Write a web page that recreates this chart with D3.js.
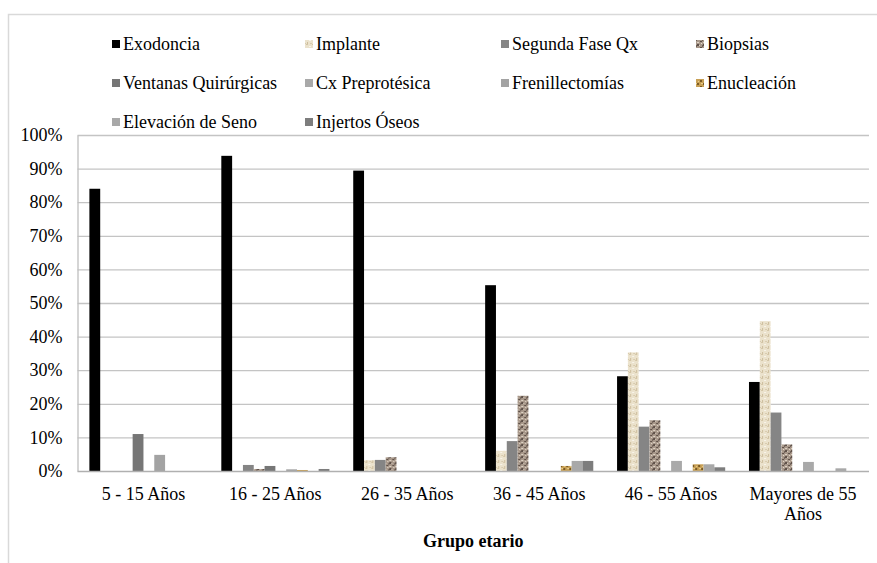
<!DOCTYPE html>
<html>
<head>
<meta charset="utf-8">
<script src="https://cdn.jsdelivr.net/npm/d3@7"></script>
<style>
  html, body { margin: 0; padding: 0; background: #fff; }
  svg { display: block; }
  text { font-family: "Liberation Serif", "Times New Roman", serif; fill: #000; }
</style>
</head>
<body>
<svg id="chart" width="877" height="563"></svg>
<script>
const categories = ["5 - 15 Años", "16 - 25 Años", "26 - 35 Años", "36 - 45 Años", "46 - 55 Años", "Mayores de 55 Años"];
const seriesNames = ["Exodoncia", "Implante", "Segunda Fase Qx", "Biopsias", "Ventanas Quirúrgicas", "Cx Preprotésica", "Frenillectomías", "Enucleación", "Elevación de Seno", "Injertos Óseos"];
const exodoncia    = [84, 93.8, 89.4, 55.3, 28.2, 26.5];
const implante     = [0, 0, 3.2, 6, 35.3, 44.6];
const segundaFase  = [0, 1.8, 3.3, 8.9, 13.2, 17.4];
const biopsias     = [0, 0.6, 4.1, 22.4, 15.1, 7.9];
const ventanas     = [11, 1.5, 0, 0, 0, 0];
const cxPreprot    = [0, 0, 0, 0, 3, 2.7];
const frenillect   = [4.8, 0.5, 0, 0, 0, 0];
const enucleacion  = [0, 0.3, 0, 1.5, 2, 0];
const elevacion    = [0, 0, 0, 3, 2, 0.8];
const injertos     = [0, 0.6, 0, 3, 1.1, 0];
const yTicks = [0, 10, 20, 30, 40, 50, 60, 70, 80, 90, 100];

const seriesValues = [exodoncia, implante, segundaFase, biopsias, ventanas, cxPreprot, frenillect, enucleacion, elevacion, injertos];
const fills = ["#000000", "url(#pImplante)", "#858585", "url(#pBiopsias)", "#767676", "#a9a9a9", "#a3a3a3", "url(#pEnucleacion)", "#a8a8a8", "#7d7d7d"];

const svg = d3.select("#chart");
const defs = svg.append("defs");
function makePattern(id, base, spots) {
  const p = defs.append("pattern").attr("id", id).attr("patternUnits", "userSpaceOnUse")
    .attr("width", 6).attr("height", 6);
  p.append("rect").attr("width", 6).attr("height", 6).attr("fill", base);
  spots.forEach(s => p.append("rect").attr("x", s[0]).attr("y", s[1]).attr("width", s[2]).attr("height", s[3]).attr("fill", s[4]));
}
makePattern("pImplante", "#ebe2cc", [[0,0,2,1,"#d3c5a6"],[3,2,2,1,"#f8f4ea"],[1,4,1,2,"#cdbd9c"],[4,5,2,1,"#d8cbae"]]);
makePattern("pBiopsias", "#a8988a", [[0,0,2,2,"#5e5048"],[3,3,2,1,"#5e5048"],[5,1,1,2,"#6e6058"],[2,1,1,1,"#ddd2c4"],[0,4,2,1,"#ddd2c4"],[4,5,1,1,"#e6dccf"]]);
makePattern("pEnucleacion", "#c8a055", [[0,0,2,2,"#7a5a25"],[3,3,2,2,"#7a5a25"],[4,0,2,1,"#e8cf8e"],[1,4,1,1,"#e8cf8e"]]);

// chart frame
svg.append("path").attr("d", "M8.5,600 V14.5 H900").attr("fill", "none").attr("stroke", "#d9d9d9").attr("stroke-width", 1.5);

const plotLeft = 77.5, plotRight = 869, plotTop = 135, plotBottom = 471;
const x0 = d3.scaleBand().domain(categories).range([plotLeft, plotRight]).paddingInner(0).paddingOuter(0);
const x1 = d3.scaleBand().domain(seriesNames).range([0, x0.bandwidth()]).paddingInner(0).paddingOuter(1.1);
const y = d3.scaleLinear().domain([0, 100]).range([plotBottom, plotTop]);

// gridlines
svg.append("g").selectAll("line").data(yTicks.filter(d => d > 0)).join("line")
  .attr("x1", plotLeft).attr("x2", plotRight)
  .attr("y1", d => y(d) + 0.5).attr("y2", d => y(d) + 0.5)
  .attr("stroke", "#c4c4c4").attr("stroke-width", 1.3);

// y axis
const yAxis = svg.append("g").attr("transform", `translate(${plotLeft},0)`)
  .call(d3.axisLeft(y).tickValues(yTicks).tickFormat(d => d + "%").tickSize(0).tickPadding(15));
yAxis.select(".domain").attr("stroke", "#bfbfbf").attr("stroke-width", 1.3);
yAxis.selectAll("text").style("font-family", "Liberation Serif").style("font-size", "18px").attr("fill", "#000");

// bars
const groups = svg.append("g").selectAll("g").data(categories).join("g")
  .attr("transform", d => `translate(${x0(d)},0)`);
groups.selectAll("rect")
  .data((c, ci) => seriesNames.map((s, si) => ({ s, si, v: seriesValues[si][ci] })).filter(d => d.v > 0))
  .join("rect")
  .attr("x", d => x1(d.s))
  .attr("width", x1.bandwidth())
  .attr("y", d => y(d.v))
  .attr("height", d => y(0) - y(d.v))
  .attr("fill", d => fills[d.si]);

// x axis baseline
svg.append("line").attr("x1", plotLeft).attr("x2", plotRight).attr("y1", plotBottom + 0.5).attr("y2", plotBottom + 0.5)
  .attr("stroke", "#b0b0b0").attr("stroke-width", 1.3);

// x labels
const xLabelLines = { "Mayores de 55 Años": ["Mayores de 55", "Años"] };
const xl = svg.append("g").selectAll("text").data(categories).join("text")
  .attr("x", d => x0(d) + x0.bandwidth() / 2)
  .attr("y", 500)
  .attr("text-anchor", "middle")
  .style("font-size", "18px");
xl.each(function(d) {
  const lines = xLabelLines[d] || [d];
  const t = d3.select(this);
  lines.forEach((ln, i) => t.append("tspan").attr("x", x0(d) + x0.bandwidth() / 2).attr("dy", i === 0 ? 0 : 20).text(ln));
});

// axis title
svg.append("text").attr("x", (plotLeft + plotRight) / 2).attr("y", 547).attr("text-anchor", "middle")
  .style("font-size", "18px").style("font-weight", "bold").text("Grupo etario");

// legend
const legCols = [113, 306, 502, 697];
const legRows = [44, 83, 122];
const leg = svg.append("g").selectAll("g").data(seriesNames).join("g")
  .attr("transform", (d, i) => `translate(${legCols[i % 4]},${legRows[Math.floor(i / 4)]})`);
leg.append("rect").attr("x", -1).attr("y", -4).attr("width", 8).attr("height", 8)
  .attr("fill", (d, i) => fills[i]);
leg.append("text").attr("x", 10).attr("y", 6).style("font-size", "18px").text(d => d);
</script>
</body>
</html>
